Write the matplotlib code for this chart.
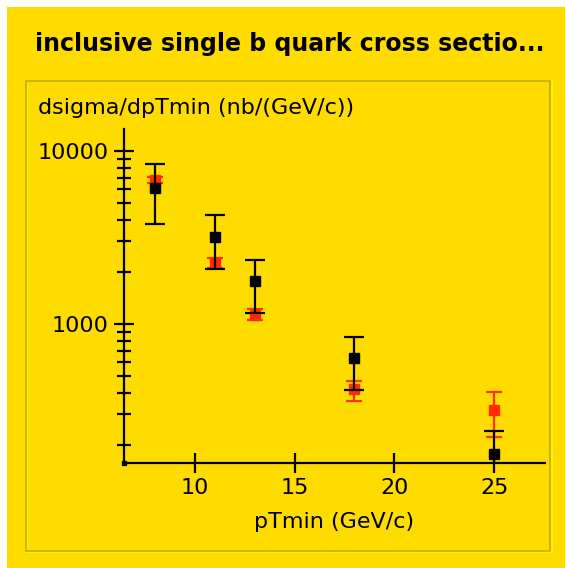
# Inclusive single b quark cross section, log-scale errorbar chart

import matplotlib.pyplot as plt
import matplotlib.patches as patches
import matplotlib.ticker as ticker
import numpy as np

pt = [8, 11, 13, 18, 25]

black_val = [6080, 3170, 1778, 638, 177]
black_hi = [8410, 4270, 2344, 838, 241]
black_lo = [3770, 2070, 1161, 415, 120]

red_val = [6800, 2245, 1128, 421, 316]
red_hi = [7050, 2410, 1215, 470, 406]
red_lo = [6530, 2110, 1050, 359, 221]

title = "inclusive single b quark cross sectio..."
ylabel = "dsigma/dpTmin (nb/(GeV/c))"
xlabel = "pTmin (GeV/c)"

W, H = 565, 568
yellow = "#FFDC00"

fig = plt.figure(figsize=(W / 100, H / 100), dpi=100)
fig.patch.set_facecolor("white")

# outer yellow panel
fig.patches.append(patches.Rectangle((7 / W, 0), 1, (H - 7) / H, transform=fig.transFigure,
                                     facecolor=yellow, edgecolor="none", zorder=-3))
# inner bevelled box
fig.patches.append(patches.Rectangle((27 / W, (H - 552) / H), 525 / W, 471 / H, transform=fig.transFigure,
                                     facecolor="none", edgecolor="#FFF200", linewidth=1.5, zorder=-2))
fig.patches.append(patches.Rectangle((26 / W, (H - 551) / H), 524 / W, 470 / H, transform=fig.transFigure,
                                     facecolor="none", edgecolor="#C4AA00", linewidth=1.2, zorder=-1))

ax = fig.add_axes([124 / W, (H - 463) / H, (545 - 124) / W, (463 - 129) / H])
ax.set_facecolor("none")
ax.set_yscale("log")
ax.set_xlim(6.45, 27.55)
ax.set_ylim(157, 13400)

for s in ["top", "right"]:
    ax.spines[s].set_visible(False)
for s in ["left", "bottom"]:
    ax.spines[s].set_linewidth(1.6)

yerr_r = [np.array(red_val) - np.array(red_lo), np.array(red_hi) - np.array(red_val)]
ax.errorbar(pt, red_val, yerr=yerr_r, fmt="s", color="#FF2A00", ecolor="#FF3300",
            markersize=7, elinewidth=1.6, capsize=6, capthick=1.6, zorder=3)

yerr_b = [np.array(black_val) - np.array(black_lo), np.array(black_hi) - np.array(black_val)]
ax.errorbar(pt, black_val, yerr=yerr_b, fmt="s", color="black", ecolor="black",
            markersize=7, elinewidth=1.6, capsize=7, capthick=1.6, zorder=4)

# small square at the axis corner
ax.plot([0], [0], "s", color="black", markersize=3.5, transform=ax.transAxes, clip_on=False)

ax.set_xticks([10, 15, 20, 25])
ax.set_yticks([1000, 10000])
ax.set_yticklabels(["1000", "10000"])
ax.yaxis.set_minor_locator(ticker.LogLocator(base=10, subs=np.arange(2, 10)))
ax.yaxis.set_minor_formatter(ticker.NullFormatter())
ax.tick_params(which="major", direction="inout", length=14, width=1.6, labelsize=16, pad=4)
ax.tick_params(which="minor", direction="inout", length=10, width=1.6)

fig.text(38 / W, 1 - 108 / H, ylabel, fontsize=16, ha="left", va="center")
fig.text(334 / W, 1 - 522 / H, xlabel, fontsize=16, ha="center", va="center")
fig.text(290 / W, 1 - 44 / H, title, fontsize=17, fontweight="bold", ha="center", va="center")

plt.savefig("out.png", dpi=100)
